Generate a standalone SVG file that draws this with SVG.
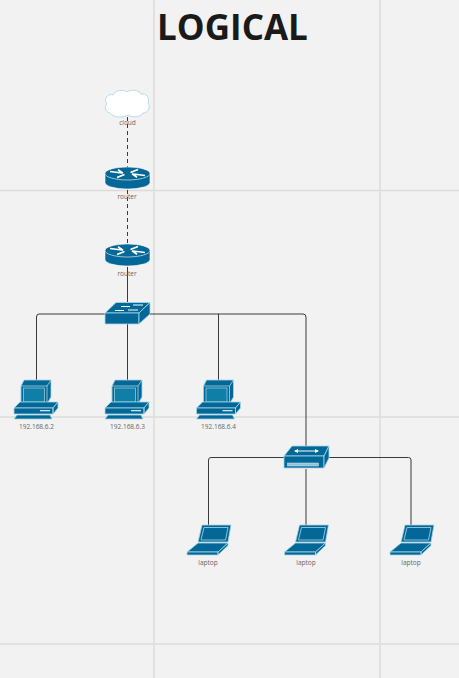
<svg xmlns="http://www.w3.org/2000/svg" width="459" height="678" viewBox="0 0 459 678">
<style>
.grid{stroke:#dcdcdc;stroke-width:1.5;fill:none}
.c{stroke:#3a3a3a;stroke-width:1;fill:none}
.d{stroke-dasharray:4 3}
.t{font-family:"Open Sans",sans-serif;font-size:6.500px;fill:#666;text-anchor:middle}
.b{fill:#036897;stroke:#fff;stroke-width:.6;stroke-linejoin:round}
.l{fill:#036897;stroke:#a9d5e6;stroke-width:.8;stroke-linejoin:round}
.w{fill:none;stroke:#fff;stroke-width:1}
.wr{fill:none;stroke:#fff;stroke-width:1.700}
</style>
<defs>
<g id="router">
<path class="b" d="M0 6.500V15.500A22.500 6.500 0 0 0 45 15.500V6.500Z"/>
<ellipse class="b" cx="22.500" cy="6.500" rx="22.500" ry="6.500"/>
<path class="wr" d="M5 4.500L17 6M13 2.700L18 6.200M40 8.500L28 7M32 10.300L27 6.800M25.500 5.500L33 2.500M19.500 7.500L12 10.500"/>
</g>
<g id="switch">
<path class="l" d="M0 11L11 .500H45L34 11Z"/>
<path class="l" d="M0 11H34V22H0Z"/>
<path class="l" d="M34 11L45 .500V12L34 22Z"/>
<path class="w" d="M16 4.500H25M28 3H38M10 8.500H19M23 8H33"/>
</g>
<g id="hub">
<path class="l" d="M0 10L8 0H45L40 10Z"/>
<path class="l" d="M0 10H40V22H0Z"/>
<path class="l" d="M40 10L45 0V12L40 22Z"/>
<path class="w" d="M11 5H34"/>
<path d="M10 5L14 3V7ZM35 5L31 3V7Z" fill="#fff"/>
<rect x="3.500" y="17" width="31" height="3" fill="#8fc3d8" stroke="#d5e9f1" stroke-width=".5"/>
</g>
<g id="pc">
<path class="l" d="M7 6L10 0H37V17L33 24H7Z"/>
<path class="l" d="M7 6H33V24H7ZM33 6L37 0"/>
<rect x="9.500" y="8" width="21" height="14" fill="#0f7fa8" stroke="#a9d5e6" stroke-width=".7"/>
<path class="l" d="M0 28L6 22H44L39 28Z"/>
<path class="l" d="M0 28H39V34H0ZM39 28L44 22V28L39 34Z"/>
<rect x="26" y="30" width="10" height="1.300" fill="#cfe5ee"/>
<path class="l" d="M0 39L3 35H36L38 39Z"/>
</g>
<g id="laptop">
<path class="l" d="M15 0H44L41 17H11Z"/>
<path class="l" d="M17 2.500H41L38.500 15H14Z" fill="#0f7fa8"/>
<path class="l" d="M11 18H41L31 27H0Z"/>
<path class="l" d="M0 27H31V30H0ZM31 27L41 18V20.500L31 30Z"/>
</g>
</defs>
<rect width="459" height="678" fill="#f2f2f2"/>
<g id="grid">
<path class="grid" d="M154 0V678M380 0V678M0 190.500H459M0 417H459M0 644H459"/>
</g>
<text id="title" x="232.500" y="40" font-family="'Open Sans',sans-serif" font-weight="700" font-size="35" fill="#1a1a1a" text-anchor="middle">LOGICAL</text>
<g id="connectors">
<path class="c d" d="M127.500 117V167M127.500 190V245"/>
<path class="c" d="M127.500 267V302M105 314H39Q36.500 314 36.500 317V380M127.500 324V380M150 314H218.500V380M218 314H303Q306 314 306 317V446M284 457.500H211Q208.500 457.500 208.500 460V525M306 469V525M329 457.500H408.500Q411 457.500 411 460V525"/>
</g>
<g id="cloud">
<path d="M110 113C105 112 104 106 107 104C103 99 108 93 113 95C115 90 124 89 127 92C131 89 139 90 141 94C146 93 150 98 148 103C151 107 148 113 143 113C141 117 132 118 128 115C124 118 114 118 110 113Z" fill="#fff" stroke="#a9d3e6" stroke-width=".8"/>
<text class="t" x="127.500" y="125">cloud</text>
</g>
<g id="router1"><use href="#router" x="105" y="167"/><text class="t" x="127" y="199">router</text></g>
<g id="router2"><use href="#router" x="105" y="244"/><text class="t" x="127" y="276">router</text></g>
<g id="switch1"><use href="#switch" x="105" y="302"/></g>
<g id="pc1"><use href="#pc" x="14" y="380"/><text class="t" x="36.500" y="429">192.168.6.2</text></g>
<g id="pc2"><use href="#pc" x="105" y="380"/><text class="t" x="127.500" y="429">192.168.6.3</text></g>
<g id="pc3"><use href="#pc" x="196.500" y="380"/><text class="t" x="218.500" y="429">192.168.6.4</text></g>
<g id="hub1"><use href="#hub" x="284" y="446"/></g>
<g id="laptop1"><use href="#laptop" x="187" y="525"/><text class="t" x="208" y="565">laptop</text></g>
<g id="laptop2"><use href="#laptop" x="284.500" y="525"/><text class="t" x="306" y="565">laptop</text></g>
<g id="laptop3"><use href="#laptop" x="390" y="525"/><text class="t" x="411" y="565">laptop</text></g>
</svg>
